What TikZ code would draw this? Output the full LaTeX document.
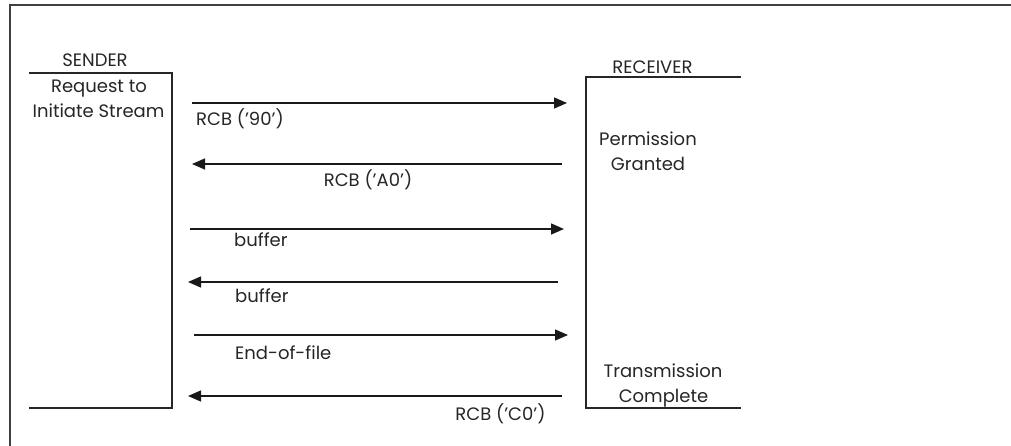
\documentclass[tikz,border=0pt]{standalone}
\usepackage{fontspec}
\setmainfont{Poppins}
\usetikzlibrary{arrows.meta}
\tikzset{
  lbl/.style={inner sep=0pt, font=\fontsize{18}{21}\selectfont, text=black!85},
  frame/.style={draw=black!75, line width=1.8pt},
  party/.style={draw=black!85, line width=1.3pt},
  msg/.style={draw=black!90, line width=1.3pt, -{Triangle[length=13pt,width=11pt]}}
}
\begin{document}
\begin{tikzpicture}[x=1pt,y=-1pt]
\useasboundingbox (0,0) rectangle (1011,446);
\fill[white] (0,0) rectangle (1011,446);
% outer frame (partially visible)
\draw[frame] (10,446) -- (10,5) -- (1011,5);
% sender box
\draw[party] (29,73) -- (172,73) -- (172,408) -- (29,408);
% receiver box
\draw[party] (741,77) -- (586,77) -- (586,408) -- (741,408);
% labels of parties
\node[lbl, anchor=base] (snd) at (95,67) {SENDER};
\node[lbl, anchor=base] (req1) at (99,92.5) {Request to};
\node[lbl, anchor=base] (req2) at (98.5,118) {Initiate Stream};
\node[lbl, anchor=base] (rcv) at (652.5,74) {RECEIVER};
\node[lbl, anchor=base] (perm1) at (648,145.5) {Permission};
\node[lbl, anchor=base] (perm2) at (648,171) {Granted};
\node[lbl, anchor=base] (tc1) at (663,377) {Transmission};
\node[lbl, anchor=base] (tc2) at (663.5,402) {Complete};
% message end points
\coordinate (a1) at (192,103); \coordinate (b1) at (567,103);
\coordinate (a2) at (192,164); \coordinate (b2) at (562,164);
\coordinate (a3) at (190,229); \coordinate (b3) at (564,229);
\coordinate (a4) at (188,282); \coordinate (b4) at (558,282);
\coordinate (a5) at (194,335); \coordinate (b5) at (568,335);
\coordinate (a6) at (188,396); \coordinate (b6) at (562,396);
% messages
\draw[msg] (a1) -- (b1);
\draw[msg] (b2) -- (a2);
\draw[msg] (a3) -- (b3);
\draw[msg] (b4) -- (a4);
\draw[msg] (a5) -- (b5);
\draw[msg] (b6) -- (a6);
% message labels
\node[lbl, anchor=base west] (m1) at (196,126) {RCB ('90')};
\node[lbl, anchor=base] (m2) at (368,186.5) {RCB ('A0')};
\node[lbl, anchor=base west] (m3) at (234,246.5) {buffer};
\node[lbl, anchor=base west] (m4) at (235,302.5) {buffer};
\node[lbl, anchor=base west] (m5) at (235,359) {End-of-file};
\node[lbl, anchor=base] (m6) at (500.5,420) {RCB ('C0')};
\end{tikzpicture}
\end{document}
